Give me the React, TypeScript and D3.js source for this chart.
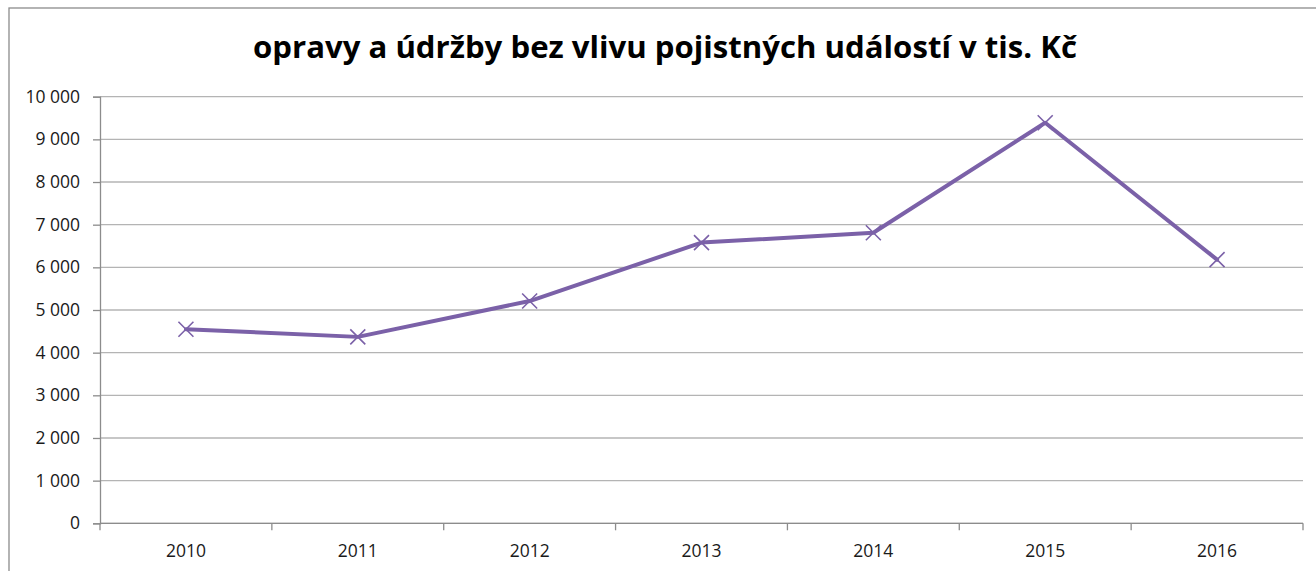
import React, { useRef, useEffect } from 'react';
import * as d3 from 'd3';

const years = ['2010', '2011', '2012', '2013', '2014', '2015', '2016'];
const values = [4550, 4370, 5210, 6580, 6810, 9390, 6180];
const yTicks = [0, 1000, 2000, 3000, 4000, 5000, 6000, 7000, 8000, 9000, 10000];
const title = 'opravy a údržby bez vlivu pojistných událostí v tis. Kč';

const W = 1316;
const H = 571;

const App = () => {
  const ref = useRef<SVGSVGElement>(null);

  useEffect(() => {
    if (!ref.current) return;
    const svg = d3.select(ref.current);
    svg.selectAll('*').remove();

    const margin = { top: 96.7, right: 13, bottom: 47.7, left: 100 };
    const width = W - margin.left - margin.right;
    const height = H - margin.top - margin.bottom;
    const font = "'Open Sans', 'Liberation Sans', sans-serif";

    // outer chart frame
    svg.append('rect')
      .attr('x', 9).attr('y', 8)
      .attr('width', W + 10).attr('height', H + 10)
      .attr('fill', 'white')
      .attr('stroke', '#8c8c8c')
      .attr('stroke-width', 1.3);

    svg.append('text')
      .attr('x', 665).attr('y', 58)
      .attr('text-anchor', 'middle')
      .attr('font-family', font)
      .attr('font-weight', 700)
      .attr('font-size', 30)
      .attr('textLength', 824)
      .attr('lengthAdjust', 'spacingAndGlyphs')
      .attr('fill', '#000')
      .text(title);

    const g = svg.append('g').attr('transform', `translate(${margin.left},${margin.top})`);

    const x = d3.scaleBand().domain(years).range([0, width]);
    const y = d3.scaleLinear().domain([0, 10000]).range([height, 0]);

    // gridlines
    g.selectAll('.grid')
      .data(yTicks)
      .enter().append('line')
      .attr('x1', 0).attr('x2', width)
      .attr('y1', d => y(d)).attr('y2', d => y(d))
      .attr('stroke', '#b4b4b4')
      .attr('stroke-width', 1.3);

    // y axis
    const yAxis = g.append('g')
      .call(d3.axisLeft(y).tickValues(yTicks).tickSize(7).tickPadding(13)
        .tickFormat(d => d3.format(',')(d as number).replace(/,/g, ' ')));
    yAxis.select('.domain').attr('stroke', '#8c8c8c').attr('stroke-width', 1.3);
    yAxis.selectAll('.tick line').attr('stroke', '#8c8c8c').attr('stroke-width', 1.3);
    yAxis.selectAll('text')
      .attr('font-family', font).attr('font-size', 17.5).attr('fill', '#1a1a1a');

    // x axis
    const xAxis = g.append('g').attr('transform', `translate(0,${height})`);
    xAxis.append('line')
      .attr('x1', 0).attr('x2', width)
      .attr('stroke', '#8c8c8c').attr('stroke-width', 1.3);
    const boundaries = d3.range(years.length + 1).map(i => i * x.step());
    xAxis.selectAll('.xt')
      .data(boundaries)
      .enter().append('line')
      .attr('x1', d => d).attr('x2', d => d)
      .attr('y1', 0).attr('y2', 7)
      .attr('stroke', '#8c8c8c').attr('stroke-width', 1.3);
    xAxis.selectAll('.xl')
      .data(years)
      .enter().append('text')
      .attr('x', d => (x(d) ?? 0) + x.bandwidth() / 2)
      .attr('y', 34)
      .attr('text-anchor', 'middle')
      .attr('font-family', font).attr('font-size', 17.5).attr('fill', '#1a1a1a')
      .text(d => d);

    const pts = years.map((yr, i) => [(x(yr) ?? 0) + x.bandwidth() / 2, y(values[i])] as [number, number]);

    g.append('path')
      .attr('d', d3.line()(pts))
      .attr('fill', 'none')
      .attr('stroke', '#7b61a8')
      .attr('stroke-width', 4)
      .attr('stroke-linejoin', 'round')
      .attr('stroke-linecap', 'round');

    const s = 7.5;
    g.selectAll('.mk')
      .data(pts)
      .enter().append('path')
      .attr('d', d => `M${d[0] - s},${d[1] - s}L${d[0] + s},${d[1] + s}M${d[0] - s},${d[1] + s}L${d[0] + s},${d[1] - s}`)
      .attr('stroke', '#7b61a8')
      .attr('stroke-width', 1.6)
      .attr('fill', 'none');
  }, []);

  return <svg ref={ref} width={W} height={H} style={{ display: 'block', position: 'absolute', left: 0, top: 0 }} />;
};

export default App;
